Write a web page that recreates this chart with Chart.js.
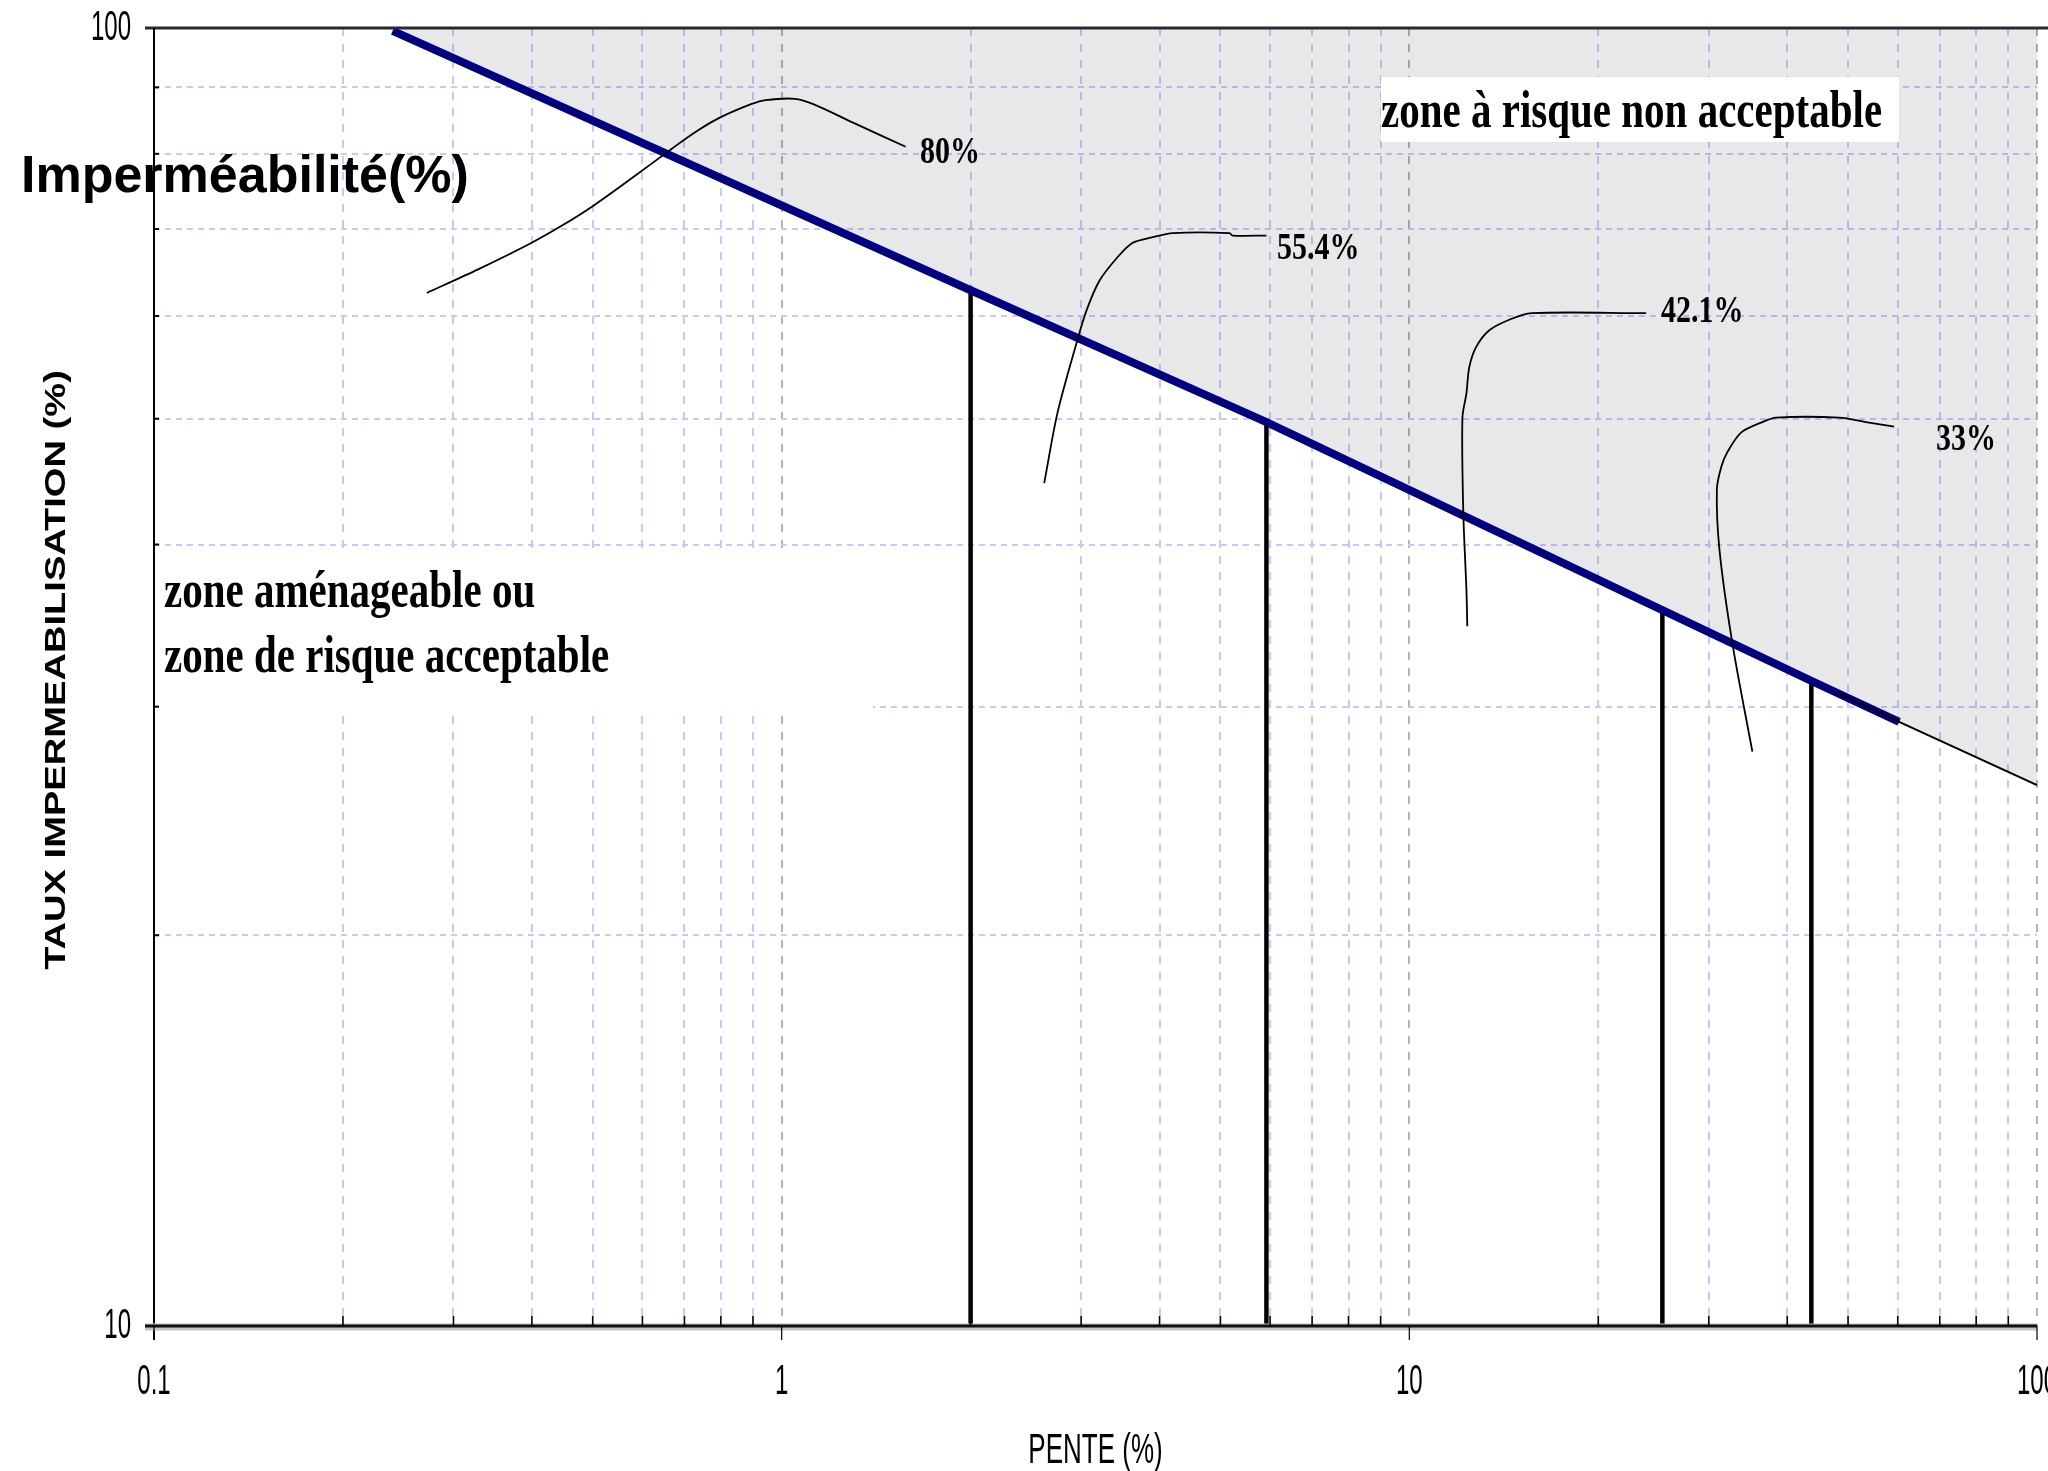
<!DOCTYPE html>
<html lang="fr">
<head>
<meta charset="utf-8">
<title>Taux d'imperméabilisation en fonction de la pente</title>
<script src="https://cdn.jsdelivr.net/npm/chart.js@4.4.0/dist/chart.umd.min.js"></script>
<style>
  html, body { margin: 0; padding: 0; background: #fff; }
  #wrap { position: relative; width: 2048px; height: 1471px; }
</style>
</head>
<body>
<div id="wrap"><canvas id="graphe"></canvas></div>
<script>
// Graduations des axes (log)
const ticksPente = [0.1, 0.2, 0.3, 0.4, 0.5, 0.6, 0.7, 0.8, 0.9, 1, 2, 3, 4, 5, 6, 7, 8, 9, 10, 20, 30, 40, 50, 60, 70, 80, 90, 100];
const ticksTaux = [10, 20, 30, 40, 50, 60, 70, 80, 90, 100];
const labelsPente = ['0.1', '1', '10', '100'];
const labelsTaux = ['10', '100'];

// Courbe limite (bleue)
const limitePente = [0.24, 2, 5.92, 25.3, 43.7, 60.3];
const limiteTaux = [99.5, 62.8, 49.7, 35.6, 31.4, 29.2];
// prolongement fin (noir)
const prolPente = [48.4, 60.3, 100];
const prolTaux = [30.7, 29.2, 26.1];

// Traits verticaux
const chutePente = [2, 5.92, 25.3, 43.7];
const chuteTaux = [62.8, 49.7, 35.6, 31.4];

// Etiquettes et lignes de rappel
const pctLabels = ['80%', '55.4%', '42.1%', '33%'];
const rappel80X = [0.272, 0.329, 0.397, 0.446, 0.502, 0.579, 0.670, 0.730, 0.797, 0.896, 0.943, 1.049, 1.128, 1.302, 1.576];
const rappel80Y = [62.5, 65.2, 68.2, 70.4, 73.0, 76.7, 80.8, 83.2, 85.3, 87.4, 88.0, 88.2, 87.3, 84.5, 81.0];
const rappel55X = [2.62, 2.75, 2.95, 3.06, 3.21, 3.42, 3.62, 3.90, 4.20, 5.17, 5.23, 5.92];
const rappel55Y = [44.6, 50.5, 57.2, 60.6, 63.9, 66.5, 68.3, 69.0, 69.5, 69.5, 69.2, 69.2];
const rappel42X = [12.37, 12.33, 12.19, 12.15, 12.33, 12.46, 12.78, 13.41, 14.43, 15.65, 23.84];
const rappel42Y = [34.6, 36.9, 42.3, 50.1, 52.3, 54.8, 56.8, 58.5, 59.6, 60.3, 60.3];
const rappel33X = [35.2, 32.7, 31.2, 30.9, 31.4, 32.1, 33.8, 36.5, 38.4, 48.4, 53.4, 59.2];
const rappel33Y = [27.7, 33.6, 39.6, 44.1, 45.9, 47.1, 48.8, 49.7, 50.1, 50.1, 49.7, 49.3];

const pts = (xs, ys) => xs.map((v, i) => ({ x: v, y: ys[i] }));
const estMajeur = v => Math.abs(Math.log10(v) - Math.round(Math.log10(v))) < 1e-6;

const serif = '"Liberation Serif", "Times New Roman", serif';
const sans = '"Liberation Sans", Arial, sans-serif';

// texte etire (le graphique d'origine est etire verticalement)
function texte(ctx, str, x, y, font, sx, sy, align, base) {
    ctx.save();
    ctx.translate(x, y);
    ctx.scale(sx, sy);
    ctx.font = font;
    ctx.fillStyle = '#000';
    ctx.textAlign = align || 'left';
    ctx.textBaseline = base || 'alphabetic';
    ctx.fillText(str, 0, 0);
    ctx.restore();
}

function trait(ctx, x1, y1, x2, y2, w, col) {
    ctx.save();
    ctx.beginPath();
    ctx.lineWidth = w;
    ctx.strokeStyle = col;
    ctx.moveTo(x1, y1);
    ctx.lineTo(x2, y2);
    ctx.stroke();
    ctx.restore();
}

const habillage = {
    id: 'habillage',
    afterDatasetsDraw(chart) {
        const { ctx, chartArea: a, scales: { x, y } } = chart;

        // cadres blancs derriere les textes
        ctx.save();
        ctx.fillStyle = '#fff';
        ctx.fillRect(1381, 77, 518, 65);
        ctx.fillRect(a.left + 1, 551, 872 - a.left, 158);
        ctx.restore();

        texte(ctx, 'zone à risque non acceptable', 1381, 127, 'bold 41px ' + serif, 1, 1.28);
        texte(ctx, 'zone aménageable ou', 164, 607, 'bold 41px ' + serif, 1, 1.28);
        texte(ctx, 'zone de risque acceptable', 164, 672, 'bold 41px ' + serif, 1, 1.28);

        const posPct = [[920, 163], [1277, 259], [1661, 322], [1936, 450]];
        pctLabels.forEach((t, i) => texte(ctx, t, posPct[i][0], posPct[i][1], 'bold 30px ' + serif, 1, 1.27));

        // axes
        trait(ctx, 145, a.top, 2048, a.top, 3, '#2a2a2a');
        trait(ctx, a.left, a.top, a.left, a.bottom + 14, 2, '#000');
        trait(ctx, 145, a.bottom + 1, a.right, a.bottom + 1, 7, '#c4c4c4');
        trait(ctx, 145, a.bottom, a.right, a.bottom, 3, '#111');

        ticksTaux.forEach(v => {
            if (v === 10 || v === 100) return;
            const py = y.getPixelForValue(v);
            trait(ctx, a.left, py, a.left + 5, py, 2, '#000');
        });
        ticksPente.forEach(v => {
            const px = x.getPixelForValue(v);
            if (estMajeur(v)) trait(ctx, px, a.bottom, px, a.bottom + 14, 1.2, '#000');
            else trait(ctx, px, a.bottom - 10, px, a.bottom, 1.6, '#000');
        });

        // libelles des graduations
        labelsTaux.forEach(t => {
            const py = y.getPixelForValue(Number(t));
            texte(ctx, t, 131, py, '24px ' + sans, 1, 1.75, 'right', 'middle');
        });
        labelsPente.forEach(t => {
            const px = x.getPixelForValue(Number(t));
            texte(ctx, t, px, 1382, '24px ' + sans, 1, 1.75, 'center', 'middle');
        });

        // titres d'axes
        texte(ctx, 'PENTE (%)', (a.left + a.right) / 2, 1463, '26px ' + sans, 1, 1.6, 'center');
        ctx.save();
        ctx.translate(65, (a.top + a.bottom) / 2 - 7);
        ctx.rotate(-Math.PI / 2);
        ctx.scale(1.27, 1);
        ctx.font = 'bold 30px ' + sans;
        ctx.fillStyle = '#000';
        ctx.textAlign = 'center';
        ctx.textBaseline = 'alphabetic';
        ctx.fillText('TAUX IMPERMEABILISATION (%)', 0, 0);
        ctx.restore();

        texte(ctx, 'Imperméabilité(%)', 21, 192, 'bold 52px ' + sans, 1, 1);
    }
};

const rappel = (xs, ys) => ({
    data: pts(xs, ys), showLine: true, borderColor: '#000', borderWidth: 1.8,
    pointRadius: 0, tension: 0.3, fill: false, order: 1
});

new Chart(document.getElementById('graphe'), {
    type: 'scatter',
    data: {
        datasets: [
            // zone grise au-dessus de la limite
            {
                data: pts(limitePente.concat([100]), limiteTaux.concat([26.1])),
                showLine: true, borderWidth: 0, pointRadius: 0,
                backgroundColor: 'rgba(0,0,0,0.092)', fill: 'end', order: 10
            },
            ...chutePente.map((v, i) => ({
                data: [{ x: v, y: 10 }, { x: v, y: chuteTaux[i] }],
                showLine: true, borderColor: '#000', borderWidth: 4.5, pointRadius: 0, order: 5
            })),
            {
                data: pts(limitePente, limiteTaux), showLine: true,
                borderColor: '#000080', borderWidth: 8, pointRadius: 0, order: 3
            },
            {
                data: pts(prolPente, prolTaux), showLine: true,
                borderColor: '#000', borderWidth: 2, pointRadius: 0, order: 2
            },
            rappel(rappel80X, rappel80Y),
            rappel(rappel55X, rappel55Y),
            rappel(rappel42X, rappel42Y),
            rappel(rappel33X, rappel33Y)
        ]
    },
    options: {
        responsive: true,
        maintainAspectRatio: false,
        animation: false,
        layout: { padding: { top: 28, right: 11, left: 0, bottom: 0 } },
        plugins: { legend: { display: false }, tooltip: { enabled: false } },
        scales: {
            x: {
                type: 'logarithmic', min: 0.1, max: 100, position: 'bottom',
                afterBuildTicks: s => { s.ticks = ticksPente.map(v => ({ value: v })); },
                afterFit: s => { s.height = 145; },
                ticks: { display: false },
                border: { display: false, dash: [8, 8] },
                grid: {
                    drawTicks: false, lineWidth: 2,
                    color: c => {
                        const v = c.tick ? c.tick.value : 0;
                        if (v === 0.1) return 'rgba(0,0,0,0)';
                        return estMajeur(v) ? '#b4b4b4' : '#c8c8ff';
                    }
                }
            },
            y: {
                type: 'logarithmic', min: 10, max: 100,
                afterBuildTicks: s => { s.ticks = ticksTaux.map(v => ({ value: v })); },
                afterFit: s => { s.width = 154; },
                ticks: { display: false },
                border: { display: false, dash: [6, 5] },
                grid: {
                    drawTicks: false, lineWidth: 2,
                    color: c => {
                        const v = c.tick ? c.tick.value : 0;
                        return (v === 10 || v === 100) ? 'rgba(0,0,0,0)' : '#c8c8ff';
                    }
                }
            }
        }
    },
    plugins: [habillage]
});
</script>
</body>
</html>
